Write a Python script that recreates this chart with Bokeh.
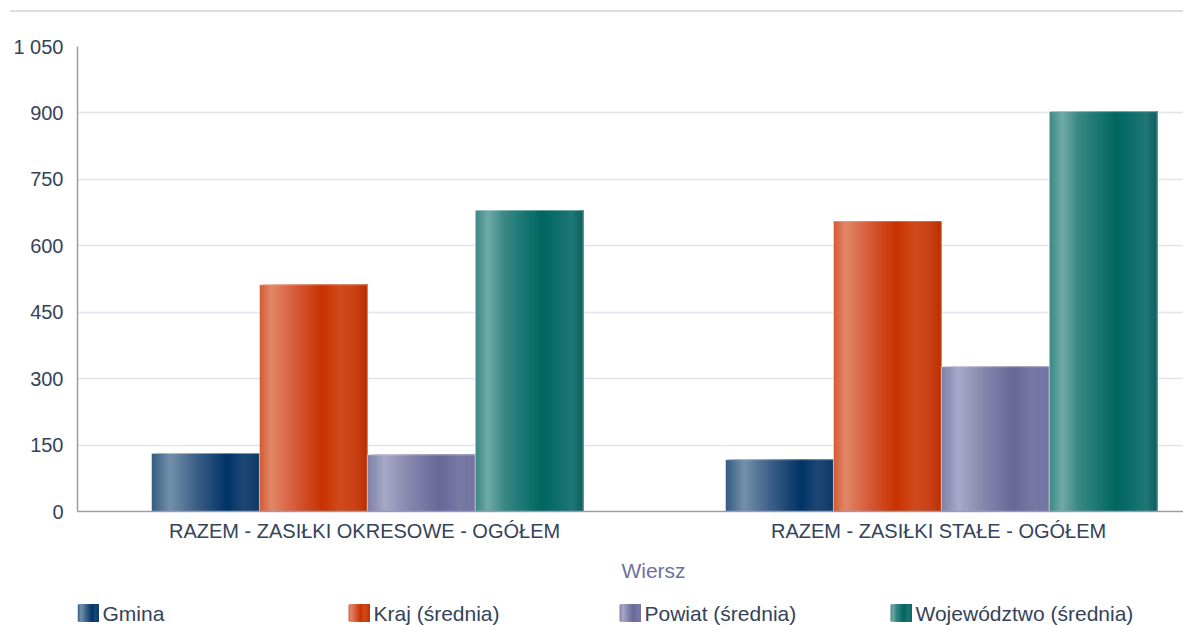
from bokeh.plotting import figure
from bokeh.models import ColumnDataSource, Range1d, FixedTicker, Div
from bokeh.core.properties import value
from bokeh.layouts import column
from bokeh.embed import file_html
from bokeh.resources import INLINE

# ---------------- data ----------------
categories = ["RAZEM -  ZASIŁKI OKRESOWE - OGÓŁEM", "RAZEM -  ZASIŁKI STAŁE - OGÓŁEM"]
series_names = ["Gmina", "Kraj (średnia)", "Powiat (średnia)", "Województwo (średnia)"]
gmina = [131, 117]
kraj = [512, 656]
powiat = [128, 327]
wojewodztwo = [680, 903]
y_ticks = [0, 150, 300, 450, 600, 750, 900, 1050]
y_tick_labels = ["0", "150", "300", "450", "600", "750", "900", "1 050"]
x_title = "Wiersz"

# ---------------- style ----------------
FONT = "Liberation Sans"
TXT = "#34435a"
values = [gmina, kraj, powiat, wojewodztwo]
offsets = [-0.282, -0.094, 0.094, 0.282]
bar_w = 0.188
N = 54
gradients = [
    [(0.0, "#325a82"), (0.17, "#7490aa"), (0.4, "#40628a"), (0.7, "#003366"), (0.85, "#1c4876"), (1.0, "#0f3a66")],
    [(0.0, "#d45a32"), (0.11, "#e08868"), (0.3, "#d86040"), (0.58, "#c83200"), (0.75, "#d04a1c"), (0.9, "#c84014"), (1.0, "#b83000")],
    [(0.0, "#7f80a8"), (0.16, "#a8a8c8"), (0.4, "#8585ad"), (0.67, "#686898"), (0.85, "#7878a5"), (1.0, "#7474a2")],
    [(0.0, "#3a8884"), (0.12, "#70aaa8"), (0.26, "#3b8a86"), (0.45, "#1a7674"), (0.62, "#006660"), (0.8, "#147070"), (0.9, "#207676"), (1.0, "#0c5e5a")],
]


def hex2rgb(h):
    h = h.lstrip("#")
    return tuple(int(h[i:i + 2], 16) for i in (0, 2, 4))


def grad_color(stops, f):
    for (p0, c0), (p1, c1) in zip(stops[:-1], stops[1:]):
        if p0 <= f <= p1:
            t = (f - p0) / (p1 - p0) if p1 > p0 else 0
            a, b = hex2rgb(c0), hex2rgb(c1)
            return "#%02x%02x%02x" % tuple(int(round(a[i] + (b[i] - a[i]) * t)) for i in range(3))
    return stops[-1][1]


# ---------------- main chart ----------------
FRAME_W = 1106
p = figure(width=1183, height=543, output_backend="svg", toolbar_location=None,
           x_range=Range1d(-0.505, -0.505 + FRAME_W / 574), y_range=Range1d(0, 1050),
           min_border_left=77, min_border_right=0, min_border_top=34, min_border_bottom=44,
           outline_line_color=None, background_fill_color="white", border_fill_color="white")

# each bar = overlapping slices (slice j spans from its left edge to the bar's right edge),
# painted left to right, giving a seamless horizontal gradient
for k, vals in enumerate(values):
    xs, ws, tops, cols = [], [], [], []
    for ci, v in enumerate(vals):
        left0 = ci + offsets[k] - bar_w / 2
        right = ci + offsets[k] + bar_w / 2
        for j in range(N):
            left = left0 + j * bar_w / N
            xs.append((left + right) / 2)
            ws.append(right - left)
            tops.append(v)
            cols.append(grad_color(gradients[k], (j + 0.5) / N))
    src = ColumnDataSource(dict(x=xs, w=ws, top=tops, color=cols))
    p.vbar(x="x", top="top", width="w", bottom=0, source=src,
           fill_color="color", line_color=None)
    p.vbar(x=[ci + offsets[k] for ci in range(len(vals))], top=vals, width=bar_w, bottom=0,
           fill_alpha=0, line_color="white", line_alpha=0.45, line_width=1)

p.xgrid.visible = False
p.ygrid.grid_line_color = "#e4e4ec"
p.ygrid.grid_line_width = 1.5

p.yaxis.ticker = FixedTicker(ticks=y_ticks)
p.yaxis.major_label_overrides = {t: l for t, l in zip(y_ticks, y_tick_labels)}
p.xaxis.ticker = FixedTicker(ticks=list(range(len(categories))))
p.xaxis.major_label_overrides = {i: c for i, c in enumerate(categories)}

for ax in (p.xaxis[0], p.yaxis[0]):
    ax.axis_line_color = "#9a9ab8"
    ax.axis_line_width = 1.5
    ax.major_tick_line_color = None
    ax.minor_tick_line_color = None
    ax.major_tick_out = 0
    ax.major_tick_in = 0
    ax.major_label_text_font = FONT
    ax.major_label_text_font_size = "20px"
    ax.major_label_text_color = TXT
p.yaxis.major_label_standoff = 14
p.xaxis.major_label_standoff = 8

# ---------------- axis title + legend strip (frame aligned with chart: 77..1183 px) ----------------
q = figure(width=1183, height=70, output_backend="svg", toolbar_location=None,
           x_range=Range1d(77, 1183), y_range=Range1d(0, 70),
           x_axis_location=None, y_axis_location=None,
           min_border_left=77, min_border_right=0, min_border_top=0, min_border_bottom=0,
           outline_line_color=None, background_fill_color="white", border_fill_color="white")
q.xgrid.visible = False
q.ygrid.visible = False

q.text(x=[653], y=[55], text=[x_title], text_font=value(FONT), text_font_size="21px",
       text_color="#6e70a0", text_align="center", text_baseline="middle")

LEG_X0, LEG_STEP, SW_W, SW_H, LEG_Y = 77, 271, 21, 17, 12.5
NS = 21
sx, sw, scol = [], [], []
for k in range(len(series_names)):
    x0 = LEG_X0 + k * LEG_STEP
    for j in range(NS):
        left = x0 + j * SW_W / NS
        sx.append((left + x0 + SW_W) / 2)
        sw.append(x0 + SW_W - left)
        scol.append(grad_color(gradients[k], (j + 0.5) / NS))
q.rect(x=sx, y=LEG_Y, width=sw, height=SW_H, fill_color=scol, line_color=None)
q.text(x=[LEG_X0 + k * LEG_STEP + SW_W + 4 for k in range(len(series_names))], y=LEG_Y,
       text=series_names, text_font=value(FONT), text_font_size="21px", text_color=TXT,
       text_align="left", text_baseline="middle")

top_line = Div(text="", width=1173, height=2, margin=(10, 0, 0, 10),
               styles={"background-color": "#dcdce6"})

layout = column(top_line, p, q)
open("out.html", "w").write(file_html(layout, INLINE))
